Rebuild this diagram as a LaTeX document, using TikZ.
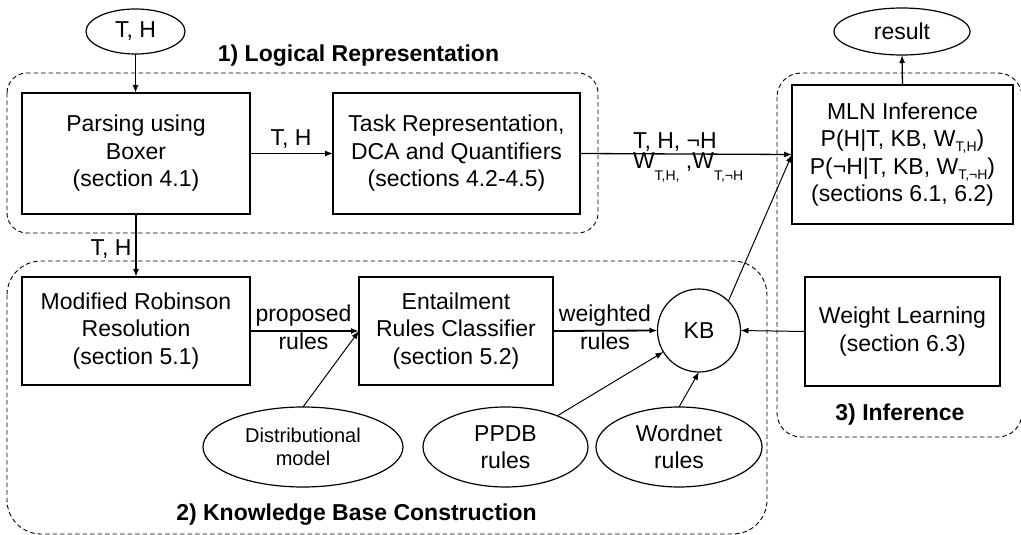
\documentclass[tikz,border=0pt]{standalone}
\usepackage{fontspec}
\setmainfont{Liberation Sans}
\usetikzlibrary{arrows.meta,shapes.geometric}
\newcommand\lowr[2][-5pt]{\raisebox{#1}{\fontsize{14}{14}\selectfont #2}}
\begin{document}
\begin{tikzpicture}[x=1pt,y=-1pt,
  every node/.style={font=\fontsize{23}{27.5}\selectfont, inner sep=0pt, outer sep=0pt},
  box/.style={draw, line width=1.2pt, align=center, execute at begin node={\rule{0pt}{24pt}}},
  ell/.style={draw, ellipse, line width=1.2pt, align=center},
  grp/.style={draw, line width=0.9pt, dash pattern=on 4.5pt off 3pt},
  title/.style={font=\bfseries\fontsize{23}{27.5}\selectfont, anchor=base},
  lbl/.style={align=center},
  arr/.style={-{Latex[length=8pt,width=6pt]}},
  thk/.style={arr, line width=1.8pt},
  med/.style={arr, line width=1.3pt},
  thn/.style={arr, line width=1pt}
]
\useasboundingbox (0,0) rectangle (1021,535);

% groups
\draw[grp, rounded corners=20] (7,73) rectangle (598,233);
\draw[grp, rounded corners=34] (7,261) rectangle (767,534);
\draw[grp, rounded corners=24] (777,73) rectangle (1022,437);

% titles
\node[title] (t1) at (358.5,62) {1) Logical Representation};
\node[title] (t2) at (356.5,520) {2) Knowledge Base Construction};
\node[title] (t3) at (900,420) {3) Inference};

% nodes
\node[ell, minimum width=99, minimum height=45] (th) at (135.5,31.5) {T, H};
\node[ell, minimum width=136, minimum height=47] (result) at (902,31.5) {result};
\node[box, minimum width=228, minimum height=121] (parse) at (136,153.5) {Parsing using\\Boxer\\(section 4.1)};
\node[box, minimum width=247, minimum height=121] (task) at (456.5,153.5) {Task Representation,\\DCA and Quantifiers\\(sections 4.2-4.5)};
\node[box, minimum width=221, minimum height=139] (mln) at (902.5,154.5) {MLN Inference\\P(H|T, KB, W\lowr{T,H})\\P(¬H|T, KB, W\lowr{T,¬H})\\(sections 6.1, 6.2)};
\node[box, minimum width=228, minimum height=108] (robin) at (136,331) {Modified Robinson\\Resolution\\(section 5.1)};
\node[box, minimum width=194, minimum height=108] (entail) at (456,331) {Entailment\\Rules Classifier\\(section 5.2)};
\node[box, minimum width=195, minimum height=109] (weight) at (902.5,331.5) {Weight Learning\\(section 6.3)};
\node[draw, circle, line width=1.2pt, minimum size=83] (kb) at (699,330.5) {KB};
\node[ell, minimum width=200, minimum height=80, font=\fontsize{20}{23}\selectfont] (distr) at (303,447) {Distributional\\model};
\node[ell, minimum width=165, minimum height=80] (ppdb) at (505.5,447) {PPDB\\rules};
\node[ell, minimum width=166, minimum height=80] (wordnet) at (679,447) {Wordnet\\rules};

% labels
\node[anchor=base] (l1) at (291,146) {T, H};
\node[anchor=base] (l2) at (111,255) {T, H};
\node[anchor=north west, align=left] (l3) at (633,132.5) {T, H, ¬H\\[-7pt]W\lowr[-12pt]{T,H,} ,W\lowr[-12pt]{T,¬H}};
\node[lbl] (l5) at (303.5,327.5) {proposed\\rules};
\node[lbl] (l6) at (605,327.5) {weighted\\rules};

% connectors
\draw[thk] (th.south) -- (th.south |- parse.north);
\draw[med] (parse.east) -- (task.west);
\draw[med] (task.east) -- (mln.west);
\draw[thk] (parse.south) -- (robin.north);
\draw[thk] (robin.east) -- (entail.west);
\draw[thn] (distr.north) -- (entail.west);
\draw[thk] (entail.east) -- (kb.west);
\draw[thn] (weight.west) -- (kb.east);
\draw[thn] (ppdb) -- (kb);
\draw[thn] (wordnet.north) -- (kb.south);
\draw[thn] (kb.north east) -- (mln.west);
\draw[med] (mln.north) -- (result.south);
\end{tikzpicture}
\end{document}
